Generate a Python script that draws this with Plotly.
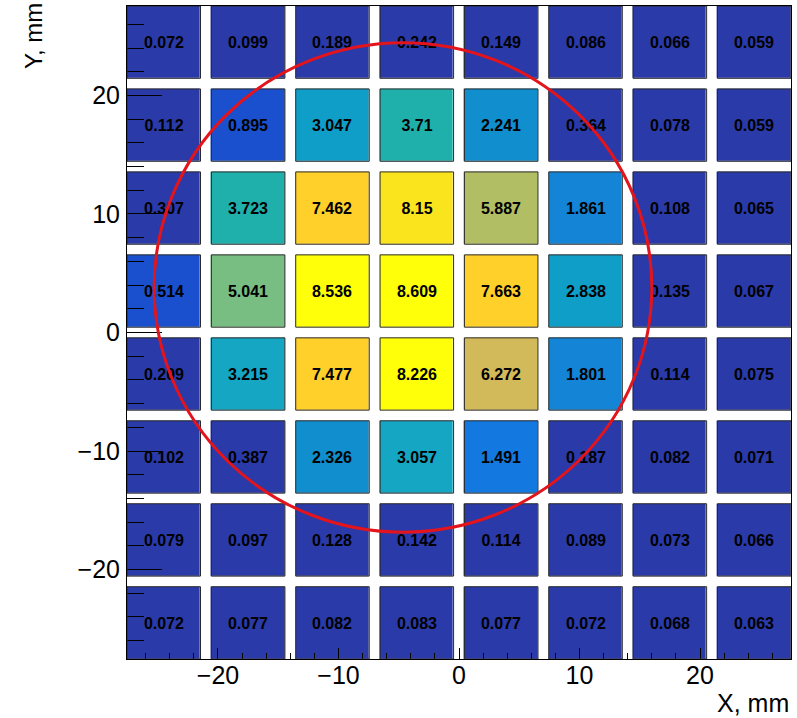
import numpy as np
import plotly.graph_objects as go

# Pad centres (mm) and signal per pad, one list per pad row (top to bottom)
x_centers = [-24.5, -17.5, -10.5, -3.5, 3.5, 10.5, 17.5, 24.5]
y_centers = [24.5, 17.5, 10.5, 3.5, -3.5, -10.5, -17.5, -24.5]

row_y_p245 = [0.072, 0.099, 0.189, 0.242, 0.149, 0.086, 0.066, 0.059]
row_y_p175 = [0.112, 0.895, 3.047, 3.71, 2.241, 0.364, 0.078, 0.059]
row_y_p105 = [0.307, 3.723, 7.462, 8.15, 5.887, 1.861, 0.108, 0.065]
row_y_p035 = [0.514, 5.041, 8.536, 8.609, 7.663, 2.838, 0.135, 0.067]
row_y_m035 = [0.209, 3.215, 7.477, 8.226, 6.272, 1.801, 0.114, 0.075]
row_y_m105 = [0.102, 0.387, 2.326, 3.057, 1.491, 0.187, 0.082, 0.071]
row_y_m175 = [0.079, 0.097, 0.128, 0.142, 0.114, 0.089, 0.073, 0.066]
row_y_m245 = [0.072, 0.077, 0.082, 0.083, 0.077, 0.072, 0.068, 0.063]

# Fitted beam spot circle (mm)
circle_cx = -4.65
circle_cy = 3.8
circle_r = 20.65

# Geometry / styling
pitch = 7.0
pad_size = 6.1
axis_half = 3.5 * pitch + pad_size / 2.0
n_levels = 20

W, H = 797, 718
ML, MR, MT, MB = 127, 6, 6, 59
PW, PH = W - ML - MR, H - MT - MB

values = np.array([row_y_p245, row_y_p175, row_y_p105, row_y_p035,
                   row_y_m035, row_y_m105, row_y_m175, row_y_m245])

# Colour contour levels, as in a COL plot with 20 contours
vmin, vmax = values.min(), values.max()
levels = np.minimum(np.floor((values - vmin) / (vmax - vmin) * n_levels), n_levels - 1)

palette = [
    (0, (42, 58, 168)),
    (1, (26, 80, 205)),
    (3, (20, 120, 225)),
    (4, (20, 132, 215)),
    (5, (16, 142, 205)),
    (6, (15, 158, 200)),
    (7, (20, 166, 195)),
    (8, (32, 176, 172)),
    (11, (120, 190, 130)),
    (13, (178, 190, 100)),
    (14, (210, 185, 90)),
    (17, (255, 207, 42)),
    (18, (250, 228, 30)),
    (19, (255, 255, 10)),
]
colorscale = [[lv / (n_levels - 1), "rgb(%d,%d,%d)" % c] for lv, c in palette]

labels = [[f"{v:g}" for v in row] for row in values]

px_x = PW / (2 * axis_half)
px_y = PH / (2 * axis_half)
gap_mm = pitch - pad_size

FONT = "Liberation Sans, Arial, sans-serif"

fig = go.Figure()
fig.add_trace(go.Heatmap(
    x=x_centers, y=y_centers, z=levels,
    zmin=0, zmax=n_levels - 1,
    colorscale=colorscale, showscale=False,
    xgap=gap_mm * px_x, ygap=gap_mm * px_y,
    text=labels, texttemplate="%{text}",
    textfont=dict(family=FONT, size=16, color="black", weight="bold"),
    hoverinfo="skip",
))

shapes = []
# pad outlines
for yc in y_centers:
    for xc in x_centers:
        shapes.append(dict(type="rect", xref="x", yref="y",
                           x0=xc - pad_size / 2, x1=xc + pad_size / 2,
                           y0=yc - pad_size / 2, y1=yc + pad_size / 2,
                           line=dict(color="#2a2a2a", width=1),
                           fillcolor="rgba(0,0,0,0)", layer="above"))
# beam spot circle
shapes.append(dict(type="circle", xref="x", yref="y",
                   x0=circle_cx - circle_r, x1=circle_cx + circle_r,
                   y0=circle_cy - circle_r, y1=circle_cy + circle_r,
                   line=dict(color="#e3141c", width=3), layer="above"))

tick_font = dict(family=FONT, size=25, color="black")

fig.update_layout(
    width=W, height=H,
    margin=dict(l=ML, r=MR, t=MT, b=MB, pad=0),
    paper_bgcolor="white", plot_bgcolor="white",
    shapes=shapes,
    showlegend=False,
    xaxis=dict(range=[-axis_half, axis_half], dtick=10, tick0=0,
               ticks="inside", ticklen=11, tickcolor="black", tickwidth=1,
               minor=dict(dtick=2, ticks="inside", ticklen=6, tickcolor="black"),
               showgrid=False, zeroline=False,
               showline=True, linecolor="black", linewidth=1, mirror=True,
               tickfont=tick_font, ticklabelstandoff=-6),
    yaxis=dict(range=[-axis_half, axis_half], dtick=10, tick0=0,
               ticks="inside", ticklen=35, tickcolor="black", tickwidth=1,
               minor=dict(dtick=2, ticks="inside", ticklen=17, tickcolor="black"),
               showgrid=False, zeroline=False,
               showline=True, linecolor="black", linewidth=1, mirror=True,
               tickfont=tick_font, ticklabelstandoff=1),
    annotations=[
        dict(text="X, mm", xref="paper", yref="paper",
             x=1.0, y=-(703 - (H - MB)) / PH,
             xanchor="right", yanchor="middle", showarrow=False,
             font=dict(family=FONT, size=25, color="black")),
        dict(text="Y, mm", xref="paper", yref="paper",
             x=(33 - ML) / PW, y=(H - MB - 36) / PH,
             xanchor="center", yanchor="middle", textangle=-90, showarrow=False,
             font=dict(family=FONT, size=24, color="black")),
    ],
)

fig.write_html("out.html")
